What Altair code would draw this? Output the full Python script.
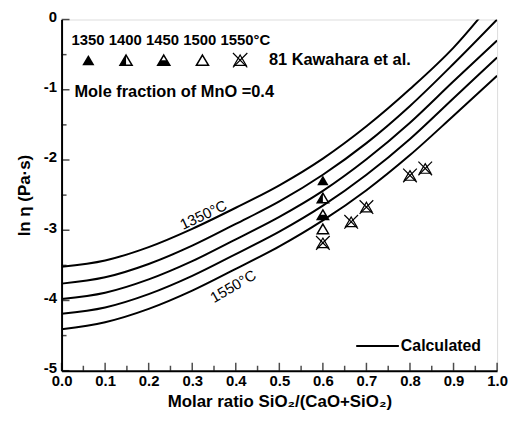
import altair as alt
import pandas as pd

# ---------------- data ----------------
x_grid = [0.0, 0.1, 0.2, 0.3, 0.4, 0.5, 0.6, 0.7, 0.8, 0.9, 1.0]
ln_eta_1350 = [-3.52, -3.43, -3.24, -2.98, -2.68, -2.36, -1.98, -1.52, -0.99, -0.40, 0.33]
ln_eta_1400 = [-3.76, -3.67, -3.48, -3.22, -2.91, -2.59, -2.21, -1.76, -1.23, -0.63, 0.00]
ln_eta_1450 = [-3.98, -3.89, -3.70, -3.44, -3.13, -2.81, -2.44, -1.99, -1.47, -0.88, -0.30]
ln_eta_1500 = [-4.19, -4.10, -3.91, -3.65, -3.34, -3.02, -2.65, -2.21, -1.70, -1.12, -0.54]
ln_eta_1550 = [-4.41, -4.31, -4.12, -3.86, -3.55, -3.23, -2.86, -2.43, -1.93, -1.37, -0.80]
temps = ["1350", "1400", "1450", "1500", "1550"]

exp_temps = ["1350", "1400", "1450", "1500"]
exp_x = [0.6, 0.6, 0.6, 0.6]
exp_y = [-2.29, -2.54, -2.78, -2.98]

kaw_x = [0.6, 0.665, 0.70, 0.80, 0.835]
kaw_y = [-3.18, -2.88, -2.67, -2.22, -2.12]

x_major = [0.0, 0.1, 0.2, 0.3, 0.4, 0.5, 0.6, 0.7, 0.8, 0.9, 1.0]
x_minor = [0.05, 0.15, 0.25, 0.35, 0.45, 0.55, 0.65, 0.75, 0.85, 0.95]
y_major = [-5, -4, -3, -2, -1, 0]
y_minor = [-4.5, -3.5, -2.5, -1.5, -0.5]

# ---------------- tables ----------------
rows = []
for t, vals in zip(temps, [ln_eta_1350, ln_eta_1400, ln_eta_1450, ln_eta_1500, ln_eta_1550]):
    for xv, yv in zip(x_grid, vals):
        rows.append({"x": xv, "y": yv, "T": t})
curves = pd.DataFrame(rows)
exp_df = pd.DataFrame({"x": exp_x, "y": exp_y, "T": exp_temps})
kaw_df = pd.DataFrame({"x": kaw_x, "y": kaw_y})

W, H = 439, 354
FONT = "Liberation Sans"
xs = alt.Scale(domain=[0, 1], nice=False, zero=False)
ys = alt.Scale(domain=[-5, 0], nice=False, zero=False)

TRI = "M0,-0.85L1,0.85L-1,0.85Z"
LEFT = "M0,-0.85L0,0.85L-1,0.85Z"
BOTTOM = "M-0.5,0L0.5,0L1,0.85L-1,0.85Z"
CROSS = "M-1,-1L1,1M1,-1L-1,1"

lines = alt.Chart(curves).mark_line(
    color="black", strokeWidth=2, interpolate="monotone", clip=True
).encode(
    x=alt.X("x:Q", scale=xs, axis=alt.Axis(
        values=x_major, format=".1f", title="Molar ratio SiO₂/(CaO+SiO₂)",
        ticks=False, grid=False, labelFont=FONT, labelFontSize=15, labelFontWeight="bold",
        labelColor="black", titleFont=FONT, titleFontSize=17, titleFontWeight="bold",
        titleColor="black", labelPadding=3, titlePadding=5, domainColor="black",
        domainWidth=2, labelFlush=False)),
    y=alt.Y("y:Q", scale=ys, axis=alt.Axis(
        values=y_major, labelExpr="'' + datum.value", title="ln η (Pa·s)",
        ticks=False, grid=False, labelFont=FONT, labelFontSize=15, labelFontWeight="bold",
        labelColor="black", titleFont=FONT, titleFontSize=17, titleFontWeight="bold",
        titleColor="black", labelPadding=5, titlePadding=10, domainColor="black",
        domainWidth=2, labelFlush=False, labelOffset=-3)),
    detail="T:N",
)


def ticks_x(vals, size):
    return alt.Chart(pd.DataFrame({"x": vals})).mark_tick(
        orient="vertical", color="black", thickness=1.5, size=size
    ).encode(x=alt.X("x:Q", scale=xs), y=alt.value(H - size / 2))


def ticks_y(vals, size):
    return alt.Chart(pd.DataFrame({"y": vals})).mark_tick(
        orient="horizontal", color="black", thickness=1.5, size=size
    ).encode(y=alt.Y("y:Q", scale=ys), x=alt.value(size / 2))


def pts(df, shape, filled, size, sw=1.5):
    return alt.Chart(df).mark_point(
        shape=shape, filled=filled, size=size, color="black", strokeWidth=sw, opacity=1
    ).encode(x=alt.X("x:Q", scale=xs), y=alt.Y("y:Q", scale=ys))


def sel(t):
    return exp_df[exp_df["T"] == t]


S = 130
layers = [
    lines,
    ticks_x(x_major, 8), ticks_x(x_minor, 5),
    ticks_y(y_major, 8), ticks_y(y_minor, 5),
    pts(sel("1350"), TRI, True, S),
    pts(sel("1400"), TRI, False, S), pts(sel("1400"), LEFT, True, S),
    pts(sel("1450"), TRI, False, S), pts(sel("1450"), BOTTOM, True, S),
    pts(sel("1500"), TRI, False, S),
    pts(kaw_df, TRI, False, S, 1.2), pts(kaw_df, CROSS, False, 190, 1.2),
]


# legend symbols (pixel positions)
def sym(px, py, shape, filled, size, sw=1.5):
    return alt.Chart(pd.DataFrame({"a": [0]})).mark_point(
        shape=shape, filled=filled, size=size, color="black", strokeWidth=sw, opacity=1
    ).encode(x=alt.value(px), y=alt.value(py))


ly = 41
LS = 150
layers += [
    sym(27, ly, TRI, True, LS),
    sym(65, ly, TRI, False, LS), sym(65, ly, LEFT, True, LS),
    sym(103, ly, TRI, False, LS), sym(103, ly, BOTTOM, True, LS),
    sym(142, ly, TRI, False, LS),
    sym(180, ly, TRI, False, LS, 1.2), sym(180, ly, CROSS, False, 210, 1.2),
]


def txt(s, px, py, size, weight="bold", align="left", angle=0):
    return alt.Chart(pd.DataFrame({"a": [0]})).mark_text(
        text=s, font=FONT, fontSize=size, fontWeight=weight, align=align,
        baseline="middle", color="black", angle=angle
    ).encode(x=alt.value(px), y=alt.value(py))


layers += [
    txt("1350 1400 1450 1500 1550°C", 10, 21, 15),
    txt("81 Kawahara et al.", 209, 41, 16.5),
    txt("Mole fraction of MnO =0.4", 13, 73, 16.5),
    txt("1350°C", 143, 197, 15, "normal", "center", 335),
    txt("1550°C", 173, 269, 15, "normal", "center", 330),
    txt("Calculated", 342, 329, 16),
    alt.Chart(pd.DataFrame({"a": [0]})).mark_rule(color="black", strokeWidth=2).encode(
        x=alt.value(297), x2=alt.value(340), y=alt.value(329)),
]

chart = alt.layer(*layers).properties(
    width=W, height=H, padding={"left": 7, "top": 0, "right": 0, "bottom": 0}
).configure_view(stroke="black", strokeWidth=2).configure(background="white")

chart.save("out.html", embed_options={"renderer": "svg", "actions": False})
